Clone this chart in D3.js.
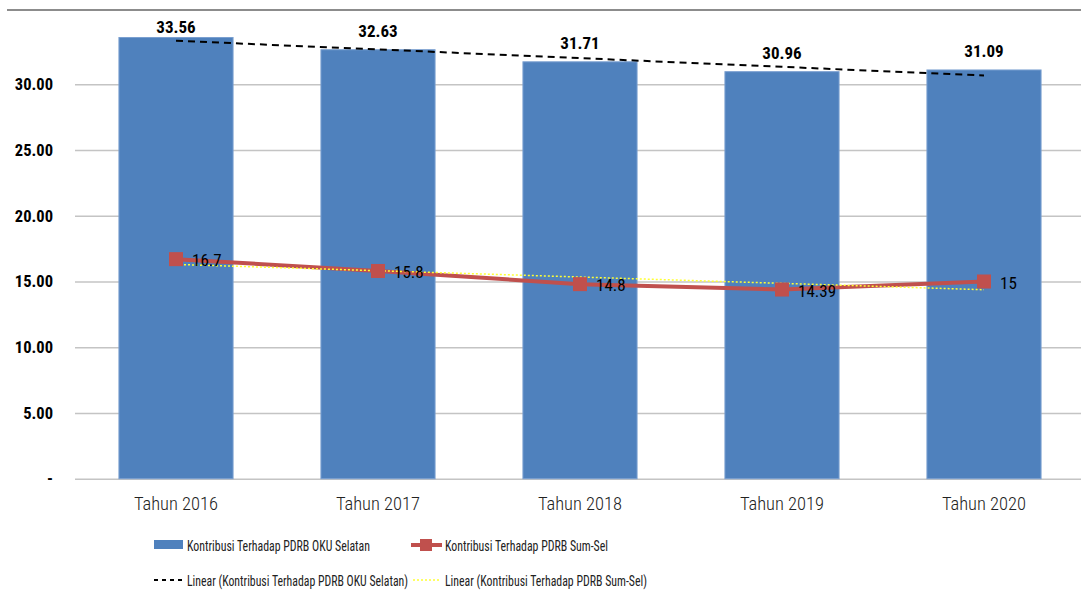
<!DOCTYPE html>
<html>
<head>
<meta charset="utf-8">
<script src="https://cdn.jsdelivr.net/npm/d3@7.9.0/dist/d3.min.js"></script>
<style>
  body { margin: 0; background: #fff; }
  svg { display: block; font-family: "Roboto Condensed", sans-serif; }
</style>
</head>
<body>
<div id="chart"></div>
<script>
const years = ['Tahun 2016', 'Tahun 2017', 'Tahun 2018', 'Tahun 2019', 'Tahun 2020'];
const okuSelatan = [33.56, 32.63, 31.71, 30.96, 31.09];
const sumSel = [16.7, 15.8, 14.8, 14.39, 15];
const sumSelLabels = ['16.7', '15.8', '14.8', '14.39', '15'];
const yTicks = [0, 5, 10, 15, 20, 25, 30];
const legendNames = [
  'Kontribusi Terhadap PDRB OKU Selatan',
  'Kontribusi Terhadap PDRB Sum-Sel',
  'Linear (Kontribusi Terhadap PDRB OKU Selatan)',
  'Linear (Kontribusi Terhadap PDRB Sum-Sel)'
];

const width = 1081;
const height = 603;
const font = '"Roboto Condensed", sans-serif';

// least squares line over category index 1..n (Excel linear trendline)
function trend(values) {
  const xs = values.map((d, i) => i + 1);
  const mx = d3.mean(xs), my = d3.mean(values);
  const slope = d3.sum(xs, (x, i) => (x - mx) * (values[i] - my)) / d3.sum(xs, x => (x - mx) ** 2);
  return values.map((d, i) => my + slope * (xs[i] - mx));
}

const svg = d3.select('#chart').append('svg')
  .attr('width', width)
  .attr('height', height);

const x = d3.scaleBand()
  .domain(years)
  .range([75, 1085])
  .paddingInner(0.435)
  .paddingOuter(0.2175);

const y = d3.scaleLinear()
  .domain([0, 30])
  .range([478.7, 84.3]);

const cx = d => x(d) + x.bandwidth() / 2;

// top border of plot area
svg.append('line')
  .attr('x1', 7).attr('x2', width)
  .attr('y1', 10).attr('y2', 10)
  .attr('stroke', '#8c8c8c').attr('stroke-width', 2);

// gridlines
svg.append('g')
  .attr('transform', 'translate(75,0)')
  .call(d3.axisLeft(y).tickValues(yTicks).tickFormat('').tickSize(-(width - 75)))
  .call(g => g.select('.domain').remove())
  .call(g => g.selectAll('line').attr('stroke', '#c4c4c4').attr('stroke-width', 1.5));

// y labels
svg.append('g')
  .attr('transform', 'translate(53,0)')
  .call(d3.axisLeft(y).tickValues(yTicks).tickSize(0).tickPadding(0)
    .tickFormat(d => d === 0 ? '-' : d.toFixed(2)))
  .call(g => g.select('.domain').remove())
  .call(g => g.selectAll('text')
    .attr('font-family', font)
    .attr('font-size', 16.5).attr('font-weight', 'bold').attr('fill', '#000'));

// bars
svg.append('g').selectAll('rect')
  .data(okuSelatan)
  .join('rect')
  .attr('x', (d, i) => x(years[i]))
  .attr('y', d => y(d))
  .attr('width', x.bandwidth())
  .attr('height', d => y(0) - y(d))
  .attr('fill', '#4F81BD')
  .attr('stroke', '#7a9fd0')
  .attr('stroke-width', 1);

// x labels
svg.append('g')
  .attr('transform', 'translate(0,497)')
  .call(d3.axisBottom(x).tickSize(0).tickPadding(0))
  .call(g => g.select('.domain').remove())
  .call(g => g.selectAll('text')
    .attr('font-family', font).attr('font-weight', 300)
    .attr('font-size', 18.5).attr('fill', '#222'));

// bar labels (Excel keeps the tallest one inside the plot area)
svg.append('g').selectAll('text')
  .data(okuSelatan)
  .join('text')
  .attr('x', (d, i) => cx(years[i]))
  .attr('y', d => Math.max(y(d) - 13, 32.5))
  .attr('text-anchor', 'middle')
  .attr('font-size', 17).attr('font-weight', 'bold')
  .text(d => d.toFixed(2));

// trend for bars
const line = d3.line().x((d, i) => cx(years[i])).y(d => y(d));
svg.append('path')
  .datum(trend(okuSelatan))
  .attr('d', line)
  .attr('fill', 'none')
  .attr('stroke', '#000')
  .attr('stroke-width', 2)
  .attr('stroke-dasharray', '7,5');

// line series
svg.append('path')
  .datum(sumSel)
  .attr('d', line)
  .attr('fill', 'none')
  .attr('stroke', '#C0504D')
  .attr('stroke-width', 4);

// trend for line
svg.append('path')
  .datum(trend(sumSel))
  .attr('d', line)
  .attr('fill', 'none')
  .attr('stroke', '#ffff33')
  .attr('stroke-width', 1.5)
  .attr('stroke-dasharray', '2,2');

svg.append('g').selectAll('rect')
  .data(sumSel)
  .join('rect')
  .attr('x', (d, i) => cx(years[i]) - 7)
  .attr('y', d => y(d) - 7)
  .attr('width', 14).attr('height', 14)
  .attr('fill', '#C0504D');

svg.append('g').selectAll('text')
  .data(sumSel)
  .join('text')
  .attr('x', (d, i) => cx(years[i]) + 16)
  .attr('y', d => y(d) + 7)
  .attr('font-size', 17)
  .attr('fill', '#000')
  .text((d, i) => sumSelLabels[i]);

// legend
const legendLayout = [
  { x: 187, y: 551, w: 183 },
  { x: 445, y: 551, w: 163 },
  { x: 187, y: 586, w: 221 },
  { x: 445, y: 586, w: 202 }
];
const leg = svg.append('g').attr('font-size', 15).attr('fill', '#222');
leg.append('rect').attr('x', 154).attr('y', 540).attr('width', 29).attr('height', 9).attr('fill', '#4F81BD');
leg.append('line').attr('x1', 411).attr('x2', 442).attr('y1', 545).attr('y2', 545)
  .attr('stroke', '#C0504D').attr('stroke-width', 4);
leg.append('rect').attr('x', 420).attr('y', 539).attr('width', 12).attr('height', 12).attr('fill', '#C0504D');
leg.append('line').attr('x1', 154).attr('x2', 182).attr('y1', 580).attr('y2', 580)
  .attr('stroke', '#000').attr('stroke-width', 2).attr('stroke-dasharray', '4,4');
leg.append('line').attr('x1', 413).attr('x2', 441).attr('y1', 580).attr('y2', 580)
  .attr('stroke', '#ffff33').attr('stroke-width', 1.5).attr('stroke-dasharray', '2,2');
leg.selectAll('text')
  .data(legendNames)
  .join('text')
  .attr('x', (d, i) => legendLayout[i].x)
  .attr('y', (d, i) => legendLayout[i].y)
  .attr('textLength', (d, i) => legendLayout[i].w)
  .attr('lengthAdjust', 'spacingAndGlyphs')
  .text(d => d);
</script>
</body>
</html>
